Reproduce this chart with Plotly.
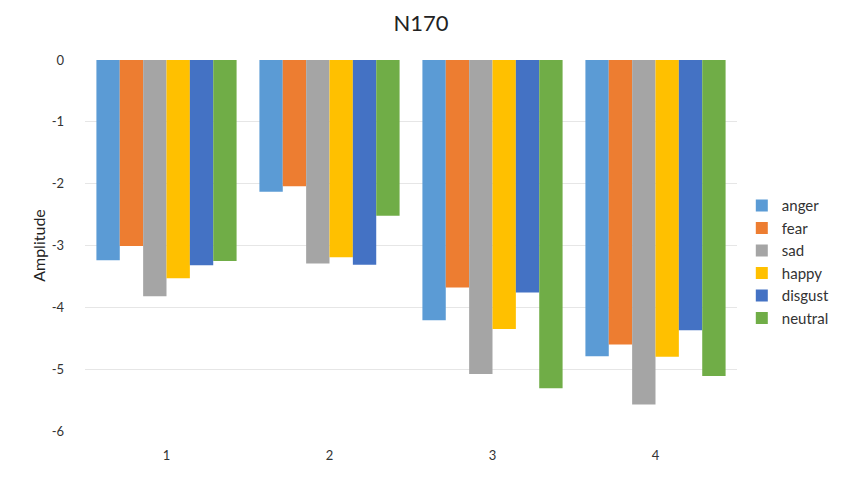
import plotly.graph_objects as go

# Component latency groups and emotion conditions
categories = ["1", "2", "3", "4"]
emotions = ["anger", "fear", "sad", "happy", "disgust", "neutral"]

# Mean N170 amplitude per emotion across the four groups
anger = [-3.24, -2.13, -4.21, -4.79]
fear = [-3.01, -2.04, -3.68, -4.60]
sad = [-3.82, -3.29, -5.08, -5.57]
happy = [-3.53, -3.19, -4.35, -4.80]
disgust = [-3.32, -3.31, -3.76, -4.37]
neutral = [-3.25, -2.52, -5.31, -5.11]

# Y-axis ticks, written with a plain hyphen
y_ticks = [0, -1, -2, -3, -4, -5, -6]
y_tick_text = ["0", "-1", "-2", "-3", "-4", "-5", "-6"]

series = [anger, fear, sad, happy, disgust, neutral]
colors = ["#5B9BD5", "#ED7D31", "#A5A5A5", "#FFC000", "#4472C4", "#70AD47"]

font_family = "Lato, 'Open Sans', sans-serif"

fig = go.Figure()
for name, vals, col in zip(emotions, series, colors):
    fig.add_trace(go.Bar(x=categories, y=vals, name=name,
                         marker=dict(color=col, line=dict(width=0))))

fig.update_layout(
    width=842, height=483,
    margin=dict(l=85, r=105, t=60, b=52, autoexpand=False),
    paper_bgcolor="white", plot_bgcolor="white",
    barmode="group", bargap=0.14, bargroupgap=0,
    title=dict(text="N170", x=0.5, xref="container", y=0.952, yanchor="middle",
               font=dict(family=font_family, size=22, color="#222222")),
    font=dict(family=font_family, size=13, color="#333333"),
    legend=dict(x=0.881, xref="container", xanchor="left",
                y=0.458, yref="container", yanchor="middle",
                itemwidth=30,
                font=dict(size=15, color="#333333"), tracegroupgap=0,
                bgcolor="rgba(0,0,0,0)"),
    showlegend=True,
)
fig.update_xaxes(showline=False, ticks="", tickfont=dict(size=13),
                 ticklabelstandoff=15)
fig.update_yaxes(range=[-6, 0], tickvals=y_ticks, ticktext=y_tick_text,
                 showgrid=True, gridcolor="#E6E6E6",
                 gridwidth=1, zeroline=False, showline=False, ticks="",
                 tickfont=dict(size=13), ticklabelstandoff=20,
                 title=dict(text="Amplitude", font=dict(size=16, color="#222222"),
                            standoff=2))

fig.write_html("out.html")
